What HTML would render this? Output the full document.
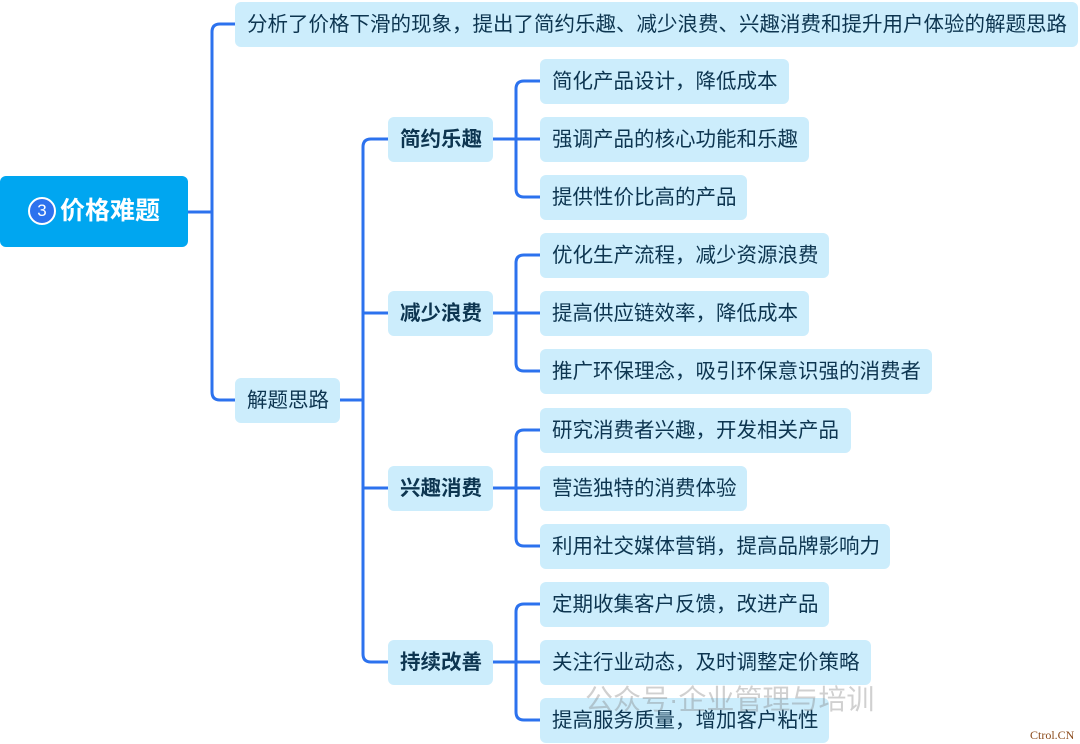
<!DOCTYPE html>
<html><head><meta charset="utf-8"><style>
body{margin:0;width:1080px;height:744px;background:#fff;position:relative;overflow:hidden;font-family:"Liberation Sans","Noto Sans CJK SC",sans-serif;}
.n{position:absolute;background:#ccedfc;border-radius:6px;color:#0d3550;font-size:20.5px;line-height:45px;height:45px;padding-left:12px;box-sizing:border-box;white-space:nowrap;}
.b{font-weight:bold;}
svg{position:absolute;left:0;top:0;}
</style></head><body>
<svg width="1080" height="744" fill="none" stroke="#2c72ee" stroke-width="3">
<path d="M175 212 H212"/>
<path d="M235 24 H220 Q212 24 212 32 V392 Q212 400 220 400 H235"/>
<path d="M340 400 H363"/>
<path d="M388 139 H371 Q363 139 363 147 V654 Q363 662 371 662 H388"/>
<path d="M363 313 H388 M363 488 H388"/>
<g>
<path d="M493 139 H540"/><path d="M540 81 H524 Q516 81 516 89 V189 Q516 197 524 197 H540"/>
<path d="M493 313 H540"/><path d="M540 255 H524 Q516 255 516 263 V363 Q516 371 524 371 H540"/>
<path d="M493 488 H540"/><path d="M540 430 H524 Q516 430 516 438 V538 Q516 546 524 546 H540"/>
<path d="M493 662 H540"/><path d="M540 604 H524 Q516 604 516 612 V712 Q516 720 524 720 H540"/>
</g>
</svg>
<div style="position:absolute;left:0;top:176px;width:188px;height:71px;background:#00a6f0;border-radius:6px;color:#fff;font-weight:bold;font-size:25px;line-height:71px;text-align:center;"><span style="display:inline-block;width:24px;height:24px;border:2px solid #fff;border-radius:50%;background:#2d72ee;font-size:17px;line-height:24px;vertical-align:3px;font-weight:normal;margin-right:4px;">3</span>价格难题</div>
<div class="n" style="left:235px;top:2px;width:843px;">分析了价格下滑的现象，提出了简约乐趣、减少浪费、兴趣消费和提升用户体验的解题思路</div>
<div class="n" style="left:235px;top:378px;width:105px;">解题思路</div>
<div class="n b" style="left:388px;top:117px;width:105px;">简约乐趣</div>
<div class="n b" style="left:388px;top:291px;width:105px;">减少浪费</div>
<div class="n b" style="left:388px;top:466px;width:105px;">兴趣消费</div>
<div class="n b" style="left:388px;top:640px;width:105px;">持续改善</div>
<div class="n" style="left:540px;top:59px;width:249px;">简化产品设计，降低成本</div>
<div class="n" style="left:540px;top:117px;width:269px;">强调产品的核心功能和乐趣</div>
<div class="n" style="left:540px;top:175px;width:207px;">提供性价比高的产品</div>
<div class="n" style="left:540px;top:233px;width:289px;">优化生产流程，减少资源浪费</div>
<div class="n" style="left:540px;top:291px;width:269px;">提高供应链效率，降低成本</div>
<div class="n" style="left:540px;top:349px;width:392px;">推广环保理念，吸引环保意识强的消费者</div>
<div class="n" style="left:540px;top:408px;width:311px;">研究消费者兴趣，开发相关产品</div>
<div class="n" style="left:540px;top:466px;width:207px;">营造独特的消费体验</div>
<div class="n" style="left:540px;top:524px;width:350px;">利用社交媒体营销，提高品牌影响力</div>
<div class="n" style="left:540px;top:582px;width:289px;">定期收集客户反馈，改进产品</div>
<div class="n" style="left:540px;top:640px;width:331px;">关注行业动态，及时调整定价策略</div>
<div class="n" style="left:540px;top:698px;width:289px;">提高服务质量，增加客户粘性</div>
<div style="position:absolute;left:585px;top:678px;font-size:28px;color:rgba(120,120,120,0.35);white-space:nowrap;">公众号·企业管理与培训</div>
<div style="position:absolute;left:1030px;top:728px;font-size:12px;color:#8b4a1a;font-family:'Liberation Serif',serif;">Ctrol.CN</div>
</body></html>
